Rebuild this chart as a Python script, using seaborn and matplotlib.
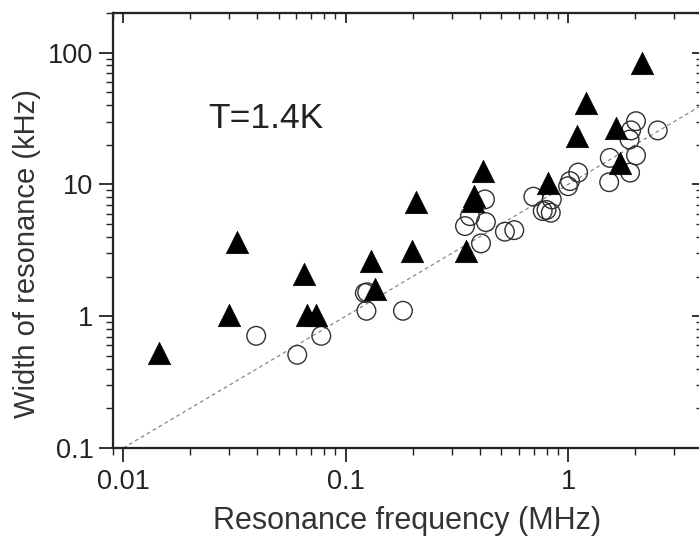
import numpy as np
import pandas as pd
from matplotlib import pyplot as plt
from matplotlib import ticker
import seaborn as sns


sns.set_style('ticks')
plt.rcParams['font.family'] = ['Liberation Sans', 'DejaVu Sans']
plt.rcParams['font.size'] = 19


# data
# filled triangles
tri_f = [0.0145, 0.030, 0.0324, 0.0647, 0.0667, 0.0734, 0.1305, 0.135, 0.198, 0.207,
         0.347, 0.372, 0.377, 0.413, 0.815, 1.094, 1.20, 1.64, 1.71, 2.16]
tri_w = [0.53, 1.03, 3.66, 2.08, 1.03, 1.03, 2.62, 1.6, 3.12, 7.3,
         3.12, 7.5, 8.15, 12.6, 10.3, 23.2, 41.6, 26.9, 14.6, 83.6]

# open circles
circ_f = [0.0396, 0.0606, 0.0777, 0.122, 0.125, 0.124, 0.181, 0.344, 0.362, 0.406,
          0.423, 0.427, 0.520, 0.573, 0.698, 0.769, 0.80, 0.836, 0.845, 1.0,
          1.02, 1.11, 1.53, 1.54, 1.89, 1.90, 1.92, 2.02, 2.02, 2.53]
circ_w = [0.71, 0.51, 0.71, 1.5, 1.52, 1.10, 1.10, 4.83, 5.75, 3.57,
          7.7, 5.18, 4.38, 4.5, 8.07, 6.28, 6.4, 6.1, 7.7, 9.7,
          10.6, 12.3, 10.4, 15.9, 21.9, 12.3, 25.7, 16.6, 30.2, 25.7]

# dashed guide line (width = 10 x frequency)
line_f = [0.01, 4.0]
line_w = [0.1, 40.0]

x_ticks = [0.01, 0.1, 1]
y_ticks = [0.1, 1, 10, 100]


fig = plt.figure(figsize=(6.99, 5.41), dpi=100)
# right edge of the frame sits just outside the picture, like the original crop
ax = fig.add_axes([0.1617, 0.1719, 0.8426, 0.8041])

sns.lineplot(x=line_f, y=line_w, ax=ax, color='#888888', lw=0.9, linestyle='--', zorder=1)
ax.lines[-1].set_dashes([3, 2.5])

sns.scatterplot(x=circ_f, y=circ_w, ax=ax, marker='o', s=180, facecolors='none',
                edgecolor='#303030', linewidth=1.0, zorder=2)
sns.scatterplot(x=tri_f, y=tri_w, ax=ax, marker='^', s=260, color='black',
                edgecolor='black', linewidth=0.5, zorder=3)

ax.set_xscale('log')
ax.set_yscale('log')
ax.set_xlim(0.009, 4)
ax.set_ylim(0.1, 200)

fmt = ticker.FuncFormatter(lambda v, p: '%g' % v)
ax.xaxis.set_major_locator(ticker.FixedLocator(x_ticks))
ax.yaxis.set_major_locator(ticker.FixedLocator(y_ticks))
ax.xaxis.set_major_formatter(fmt)
ax.yaxis.set_major_formatter(fmt)
ax.xaxis.set_minor_locator(ticker.LogLocator(base=10, subs=range(2, 10)))
ax.yaxis.set_minor_locator(ticker.LogLocator(base=10, subs=range(2, 10)))
ax.xaxis.set_minor_formatter(ticker.NullFormatter())
ax.yaxis.set_minor_formatter(ticker.NullFormatter())

ax.tick_params(which='major', direction='out', length=10, width=1.3, labelsize=19.5, colors='#222222')
ax.tick_params(axis='x', which='major', pad=5)
ax.tick_params(axis='y', which='major', pad=4)
ax.tick_params(which='minor', direction='out', length=5, width=1.0, colors='#222222')

# top and right: inward ticks, no labels
axt = ax.twiny()
axt.set_xscale('log')
axt.set_xlim(ax.get_xlim())
axt.xaxis.set_major_locator(ticker.FixedLocator(x_ticks))
axt.xaxis.set_minor_locator(ticker.LogLocator(base=10, subs=range(2, 10)))
axt.tick_params(axis='x', which='both', direction='in', labeltop=False, top=True, colors='#222222')
axt.tick_params(axis='x', which='major', length=7, width=1.3)
axt.tick_params(axis='x', which='minor', length=4, width=1.0)

axr = ax.twinx()
axr.set_yscale('log')
axr.set_ylim(ax.get_ylim())
axr.yaxis.set_major_locator(ticker.FixedLocator(y_ticks))
axr.yaxis.set_minor_locator(ticker.LogLocator(base=10, subs=range(2, 10)))
axr.tick_params(axis='y', which='both', direction='in', labelright=False, right=True, colors='#222222')
axr.tick_params(axis='y', which='major', length=7, width=1.3)
axr.tick_params(axis='y', which='minor', length=4, width=1.0)

for a in [ax, axt, axr]:
    for s in a.spines.values():
        s.set_linewidth(1.5)
        s.set_color('#222222')

ax.set_xlabel('Resonance frequency (MHz)', fontsize=22, labelpad=8, color='#333333')
ax.set_ylabel('Width of resonance (kHz)', fontsize=21, labelpad=5, color='#333333')
# label sits a little below the middle of the frame in the original
ax.yaxis.label.set_y(0.446)

ax.text(0.161, 0.7356, 'T=1.4K', transform=ax.transAxes, fontsize=25.5,
        ha='left', va='baseline', color='#222222')

fig.savefig('out.png', dpi=100)
